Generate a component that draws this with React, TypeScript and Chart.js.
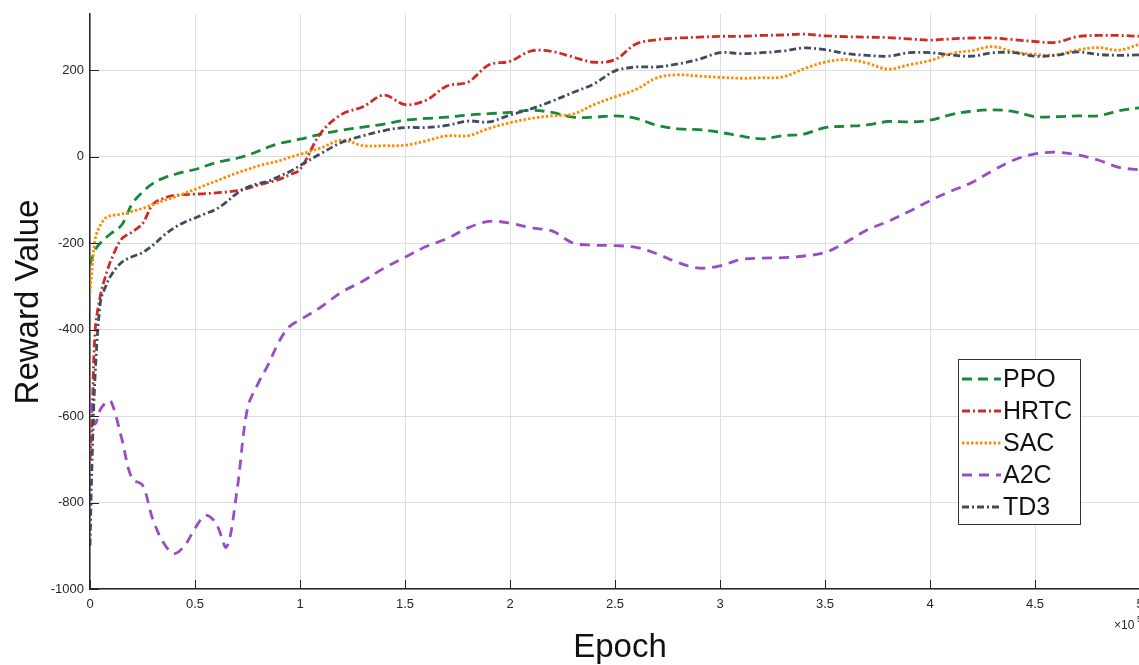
import React, { useEffect, useRef } from "react";
import { Chart, registerables } from "chart.js";

Chart.register(...registerables);

const epochs = [
  0, 0.01, 0.025, 0.05, 0.075, 0.1, 0.15, 0.2, 0.25, 0.3, 0.35, 0.4, 0.45, 0.5, 0.55, 0.6, 0.65, 0.7, 0.75, 0.8,
  0.85, 0.9, 0.95, 1.0, 1.1, 1.2, 1.3, 1.4, 1.5, 1.6, 1.7, 1.8, 1.9, 2.0, 2.1, 2.2, 2.3, 2.4, 2.5, 2.6, 2.7, 2.8,
  2.9, 3.0, 3.1, 3.2, 3.3, 3.4, 3.5, 3.6, 3.7, 3.8, 3.9, 4.0, 4.1, 4.2, 4.3, 4.4, 4.5, 4.6, 4.7, 4.8, 4.9, 5.0,
];

const ppo = [
  -250, -235, -215, -200, -188, -178, -159, -110, -82, -62, -50, -42, -35, -30, -22, -14, -9, -4, 3, 12,
  22, 30, 35, 40, 52, 61, 68, 75, 84, 88, 91, 96, 99, 102, 107, 102, 91, 91, 94, 88, 72, 64,
  62, 56, 47, 41, 48, 52, 67, 70, 73, 81, 80, 84, 97, 105, 108, 104, 92, 92, 94, 94, 106, 113,
];

const hrtc = [
  -700, -600, -400, -320, -275, -240, -191, -175, -155, -110, -97, -90, -88, -87, -86, -84, -82, -79, -74, -66,
  -60, -53, -42, -30, 55, 98, 115, 142, 120, 130, 163, 172, 212, 220, 244, 243, 230, 218, 224, 260, 270, 274,
  276, 278, 278, 280, 281, 283, 279, 277, 276, 275, 272, 269, 272, 274, 274, 270, 266, 264, 277, 280, 280, 278,
];

const sac = [
  -315, -260, -190, -158, -142, -137, -133, -127, -120, -111, -102, -94, -85, -76, -66, -57, -47, -38, -30, -22,
  -16, -10, -2, 5, 20, 38, 25, 25, 26, 36, 48, 48, 65, 78, 88, 94, 98, 120, 138, 155, 182, 189,
  186, 183, 181, 182, 184, 203, 218, 224, 216, 202, 212, 222, 238, 245, 254, 242, 236, 235, 246, 252, 246, 260,
];

const a2c = [
  -570, -590, -618, -584, -570, -566, -650, -745, -760, -840, -893, -918, -900, -860, -830, -848, -903, -772, -582, -525,
  -480, -428, -393, -378, -348, -313, -288, -258, -233, -208, -190, -165, -150, -154, -165, -172, -200, -205, -206, -210, -225, -245,
  -258, -253, -238, -235, -234, -230, -222, -198, -170, -150, -127, -102, -80, -60, -32, -8, 6, 10, 4, -8, -25, -31,
];

const td3 = [
  -900, -700, -500, -335, -300, -275, -245, -232, -222, -205, -183, -165, -152, -142, -132, -122, -105, -85, -71, -63,
  -57, -46, -35, -21, 7, 33, 48, 60, 67, 67, 72, 82, 80, 96, 110, 128, 148, 168, 198, 207, 207, 214,
  225, 240, 238, 240, 244, 251, 247, 238, 234, 232, 240, 240, 235, 232, 240, 240, 232, 234, 242, 236, 234, 235,
];

const seriesNames = ["PPO", "HRTC", "SAC", "A2C", "TD3"];
const seriesValues = [ppo, hrtc, sac, a2c, td3];
const seriesColors = ["#17893A", "#D12A22", "#FF8C00", "#9A4CC6", "#3E4C63"];
const seriesDashes = [[10, 6], [8, 3, 2, 3], [2.5, 2], [10, 7], [7, 3, 2, 3]];

const yTicks = [-1000, -800, -600, -400, -200, 0, 200];

const FONT = '"Liberation Sans", Arial, Helvetica, sans-serif';

const decorPlugin = {
  id: "decor",
  afterDraw(chart: any) {
    const { ctx, chartArea: ca, scales } = chart;
    ctx.save();
    // inward tick marks
    ctx.strokeStyle = "#262626";
    ctx.lineWidth = 1;
    scales.y.ticks.forEach((t: any) => {
      const y = Math.round(scales.y.getPixelForValue(t.value)) + 0.5;
      ctx.beginPath();
      ctx.moveTo(ca.left, y);
      ctx.lineTo(ca.left + 9, y);
      ctx.stroke();
    });
    scales.x.ticks.forEach((t: any) => {
      const x = Math.round(scales.x.getPixelForValue(t.value)) + 0.5;
      ctx.beginPath();
      ctx.moveTo(x, ca.bottom);
      ctx.lineTo(x, ca.bottom - 9);
      ctx.stroke();
    });

    // axis titles
    ctx.fillStyle = "#111";
    ctx.font = `33px ${FONT}`;
    ctx.textAlign = "center";
    ctx.textBaseline = "alphabetic";
    ctx.fillText("Epoch", 620, 657);
    ctx.save();
    ctx.translate(38, 302);
    ctx.rotate(-Math.PI / 2);
    ctx.fillText("Reward Value", 0, 0);
    ctx.restore();

    // exponent label
    ctx.fillStyle = "#262626";
    ctx.font = `12px ${FONT}`;
    ctx.textAlign = "left";
    ctx.textBaseline = "middle";
    ctx.fillText("\u00d710", 1114, 626);
    ctx.font = `9px ${FONT}`;
    ctx.fillText("5", 1137, 620);

    // legend
    const bx = 958.5, by = 359.5, bw = 122, bh = 165;
    ctx.fillStyle = "#ffffff";
    ctx.fillRect(bx, by, bw, bh);
    ctx.strokeStyle = "#333";
    ctx.lineWidth = 1;
    ctx.strokeRect(bx, by, bw, bh);
    chart.data.datasets.forEach((ds: any, i: number) => {
      const cy = 379 + i * 32;
      ctx.save();
      ctx.strokeStyle = ds.borderColor;
      ctx.lineWidth = ds.borderWidth;
      ctx.setLineDash(ds.borderDash);
      ctx.beginPath();
      ctx.moveTo(962, cy);
      ctx.lineTo(1001, cy);
      ctx.stroke();
      ctx.restore();
      ctx.fillStyle = "#111";
      ctx.font = `25px ${FONT}`;
      ctx.textAlign = "left";
      ctx.textBaseline = "middle";
      ctx.fillText(ds.label, 1003, cy + 1);
    });
    ctx.restore();
  },
};

export default function App() {
  const canvasRef = useRef<HTMLCanvasElement | null>(null);

  useEffect(() => {
    if (!canvasRef.current) return;
    const datasets = seriesNames.map((name, i) => ({
      label: name,
      data: epochs.map((x, j) => ({ x, y: seriesValues[i][j] })),
      borderColor: seriesColors[i],
      backgroundColor: seriesColors[i],
      borderWidth: 2.8,
      borderDash: seriesDashes[i],
      pointRadius: 0,
      tension: 0.35,
      fill: false,
      order: 5 - i,
    }));
    const chart = new Chart(canvasRef.current, {
      type: "line",
      data: { datasets },
      plugins: [decorPlugin],
      options: {
        animation: false,
        responsive: false,
        maintainAspectRatio: false,
        layout: { padding: { left: 0, top: 10, right: 20, bottom: 0 } },
        plugins: { legend: { display: false }, tooltip: { enabled: false } },
        scales: {
          x: {
            type: "linear",
            min: 0,
            max: 5,
            ticks: {
              stepSize: 0.5,
              autoSkip: false,
              maxRotation: 0,
              padding: 8,
              color: "#262626",
              font: { size: 13, family: FONT },
              callback: (v: any) => String(v),
            },
            grid: { color: "#dedede", lineWidth: 1, drawTicks: false },
            border: { color: "#262626", width: 1.5 },
            afterFit: (s: any) => {
              s.height = 76;
            },
          },
          y: {
            type: "linear",
            min: -1000,
            max: 330,
            afterBuildTicks: (s: any) => {
              s.ticks = yTicks.map((v) => ({ value: v }));
            },
            ticks: {
              includeBounds: false,
              padding: 6,
              color: "#262626",
              font: { size: 13, family: FONT },
              callback: (v: any) => String(v),
            },
            grid: { color: "#dedede", lineWidth: 1, drawTicks: false },
            border: { color: "#262626", width: 1.5 },
            afterFit: (s: any) => {
              s.width = 90;
            },
          },
        },
      },
    });
    return () => chart.destroy();
  }, []);

  return (
    <div
      style={{
        position: "absolute",
        left: 0,
        top: 0,
        width: 1139,
        height: 665,
        overflow: "hidden",
        background: "#ffffff",
      }}
    >
      <canvas ref={canvasRef} width={1160} height={665} style={{ display: "block" }} />
    </div>
  );
}
